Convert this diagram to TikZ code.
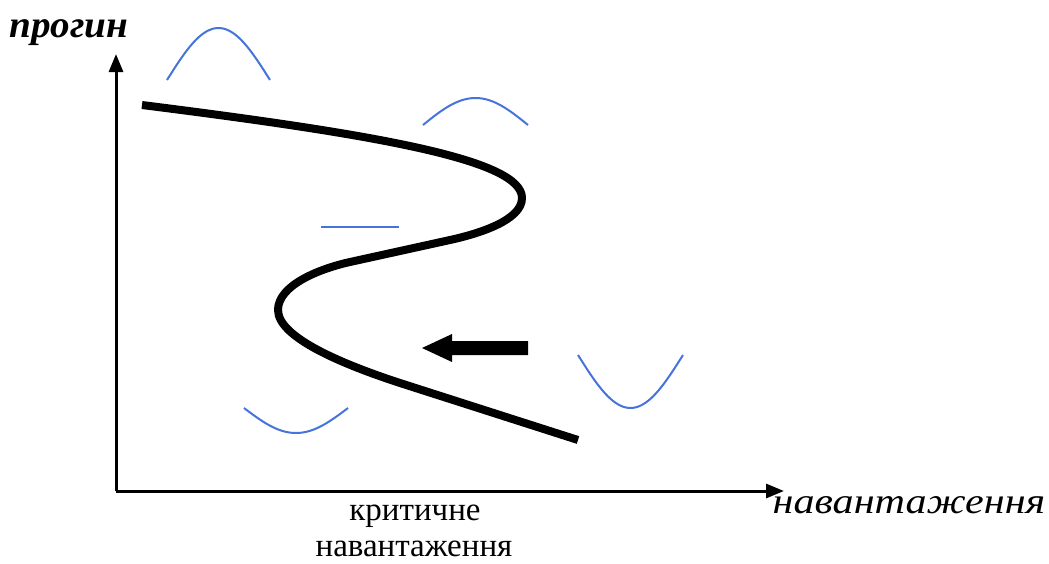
\documentclass[tikz,border=0pt]{standalone}
\usepackage{fontspec}
\setmainfont{Liberation Serif}
\usetikzlibrary{arrows.meta}
\definecolor{wave}{RGB}{70,115,220}
\tikzset{
  axis/.style={line width=3pt,-{Triangle[length=18pt,width=14pt]}},
  mode/.style={wave,line width=2pt},
  path/.style={line width=8pt,line join=round},
  lbl/.style={inner sep=0pt,anchor=base}
}
\begin{document}
\begin{tikzpicture}[x=1pt,y=-1pt]
\useasboundingbox (0,0) rectangle (1049,563);
% axes
\coordinate (O) at (116,491);
\coordinate (Ytip) at (116,54);
\coordinate (Xtip) at (784,491);
\draw[axis] (O) -- (Ytip);
\draw[axis] (O) -- (Xtip);
% labels
\node[lbl,font=\fontsize{38}{40}\selectfont\bfseries\itshape] (ylab) at (69,37) {\scalebox{1.03}[1]{прогин}};
\node[lbl,font=\fontsize{36}{40}\selectfont\itshape] (xlab) at (909,513) {\scalebox{1.17}[1]{навантаження}};
\node[lbl,font=\fontsize{33}{36}\selectfont] (crit1) at (415,520) {критичне};
\node[lbl,font=\fontsize{33}{36}\selectfont] (crit2) at (414,556) {навантаження};
% main curve
\coordinate (c0) at (142,105);
\coordinate (c1) at (522,198);
\coordinate (c2) at (450,240);
\coordinate (c3) at (350,262);
\coordinate (c4) at (278,310);
\coordinate (c5) at (400,383);
\coordinate (c6) at (578,440);
\draw[path] (c0) .. controls (380,135) and (522,160) .. (c1)
  .. controls (522,220) and (480,233.4) .. (c2) -- (c3)
  .. controls (320,268.6) and (278,285) .. (c4)
  .. controls (278,338) and (345,365) .. (c5) -- (c6);
% mode shapes
\draw[mode] plot[domain=0:1,samples=40] ({167+103*\x},{80-52*sin(180*\x)});
\draw[mode] plot[domain=0:1,samples=40] ({423+105*\x},{125-27*sin(180*\x)});
\draw[mode] (321,227) -- (399,227);
\draw[mode] plot[domain=0:1,samples=40] ({244+104*\x},{408+25*sin(180*\x)});
\draw[mode] plot[domain=0:1,samples=40] ({578+105*\x},{355+53*sin(180*\x)});
% big arrow
\fill (528,341) -- (452,341) -- (452,334) -- (422,348) -- (452,362) -- (452,355) -- (528,355) -- cycle;
\end{tikzpicture}
\end{document}
